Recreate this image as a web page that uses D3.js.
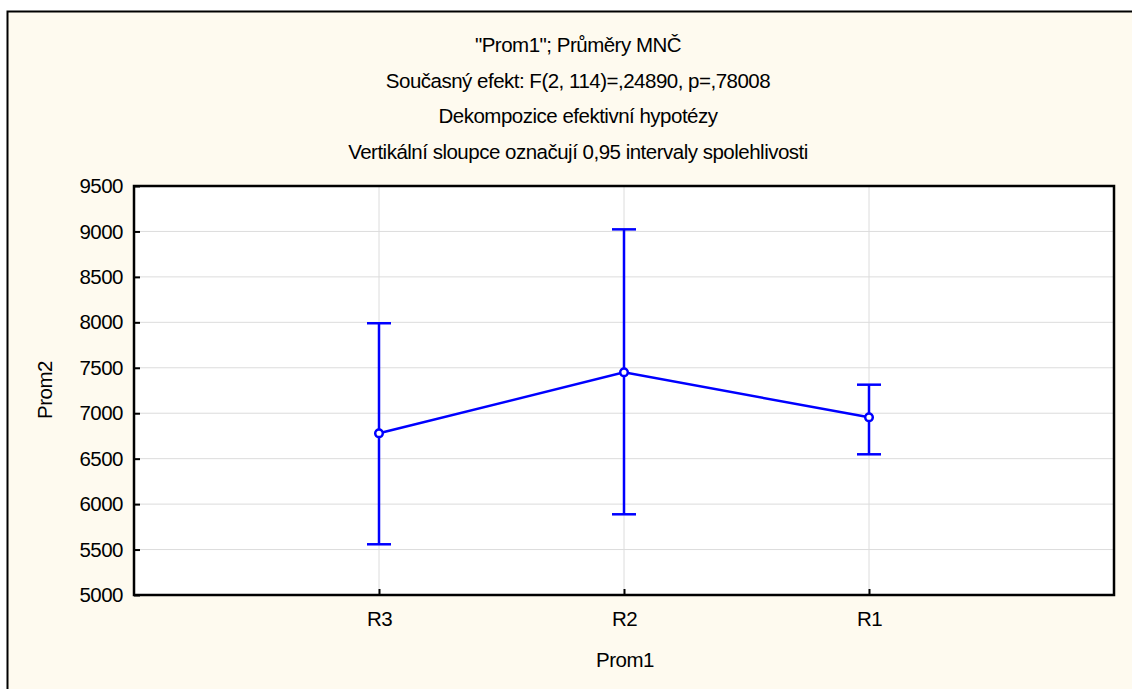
<!DOCTYPE html>
<html><head><meta charset="utf-8">
<script src="https://cdn.jsdelivr.net/npm/d3@7"></script>
<style>body{margin:0;background:#fff;} svg{display:block;}</style>
</head><body>
<svg id="c" width="1132" height="689"></svg>
<script>
const categories = ["R3", "R2", "R1"];
const means = [6779, 7450, 6955];
const upper = [7990, 9023, 7314];
const lower = [5558, 5888, 6548];
const yTicks = [5000, 5500, 6000, 6500, 7000, 7500, 8000, 8500, 9000, 9500];
const titleLines = ["\"Prom1\"; Průměry MNČ", "Současný efekt: F(2, 114)=,24890, p=,78008", "Dekompozice efektivní hypotézy", "Vertikální sloupce označují 0,95 intervaly spolehlivosti"];
const xLabel = "Prom1", yLabel = "Prom2";

const svg = d3.select("#c");
const font = "'Liberation Sans', Arial, sans-serif";
const fs = 20.5, ls = -0.5;
svg.append("rect").attr("x",0).attr("y",0).attr("width",1132).attr("height",689).attr("fill","#fff");
svg.append("rect").attr("x",7.5).attr("y",11.5).attr("width",1160).attr("height",700)
  .attr("fill","#fefaef").attr("stroke","#000").attr("stroke-width",2);

const L=134, R=1114, T=186, B=595;
const x = d3.scalePoint().domain(categories).range([L,R]).padding(1);
const y = d3.scaleLinear().domain([5000,9500]).range([B,T]);

svg.append("rect").attr("x",L).attr("y",T).attr("width",R-L).attr("height",B-T).attr("fill","#fff");
// gridlines
svg.append("g").selectAll("line").data(yTicks.slice(1,-1)).join("line")
  .attr("x1",L).attr("x2",R).attr("y1",d=>y(d)).attr("y2",d=>y(d)).attr("stroke","#dcdcdc").attr("stroke-width",1);
svg.append("g").selectAll("line").data(categories).join("line")
  .attr("y1",T).attr("y2",B).attr("x1",d=>x(d)).attr("x2",d=>x(d)).attr("stroke","#dcdcdc").attr("stroke-width",1);

// axes
const ya = svg.append("g").attr("transform",`translate(${L},0)`)
  .call(d3.axisLeft(y).tickValues(yTicks).tickSize(-6).tickPadding(11).tickFormat(d3.format("d")));
const xa = svg.append("g").attr("transform",`translate(0,${B})`)
  .call(d3.axisBottom(x).tickSize(-6).tickPadding(16));
[ya,xa].forEach(a=>{
  a.select(".domain").remove();
  a.selectAll(".tick line").attr("stroke","#000").attr("stroke-width",2);
  a.selectAll("text").attr("font-family",font).attr("font-size",fs).attr("letter-spacing",ls).attr("fill","#000");
});
svg.append("rect").attr("x",L).attr("y",T).attr("width",R-L).attr("height",B-T)
  .attr("fill","none").attr("stroke","#000").attr("stroke-width",2.5);

// series
const data = categories.map((c,i)=>({c,m:means[i],u:upper[i],l:lower[i]}));
const g = svg.append("g").attr("stroke","#0000ff").attr("stroke-width",2.5).attr("fill","none");
g.selectAll(".eb").data(data).join("line").attr("x1",d=>x(d.c)).attr("x2",d=>x(d.c)).attr("y1",d=>y(d.u)).attr("y2",d=>y(d.l));
g.selectAll(".cu").data(data).join("line").attr("x1",d=>x(d.c)-12).attr("x2",d=>x(d.c)+12).attr("y1",d=>y(d.u)).attr("y2",d=>y(d.u));
g.selectAll(".cl").data(data).join("line").attr("x1",d=>x(d.c)-12).attr("x2",d=>x(d.c)+12).attr("y1",d=>y(d.l)).attr("y2",d=>y(d.l));
g.append("path").datum(data).attr("d",d3.line().x(d=>x(d.c)).y(d=>y(d.m)));
g.selectAll("circle").data(data).join("circle").attr("cx",d=>x(d.c)).attr("cy",d=>y(d.m)).attr("r",3.8).attr("fill","#fff");

// titles
svg.append("g").selectAll("text").data(titleLines).join("text")
  .attr("x",578).attr("y",(d,i)=>52+i*35.7).attr("text-anchor","middle")
  .attr("font-family",font).attr("font-size",fs).attr("letter-spacing",ls).text(d=>d);
svg.append("text").attr("x",625).attr("y",667).attr("text-anchor","middle").attr("font-family",font).attr("font-size",fs).attr("letter-spacing",ls).text(xLabel);
svg.append("text").attr("transform","translate(52,390) rotate(-90)").attr("text-anchor","middle").attr("font-family",font).attr("font-size",fs).attr("letter-spacing",ls).text(yLabel);
</script>
</body></html>
